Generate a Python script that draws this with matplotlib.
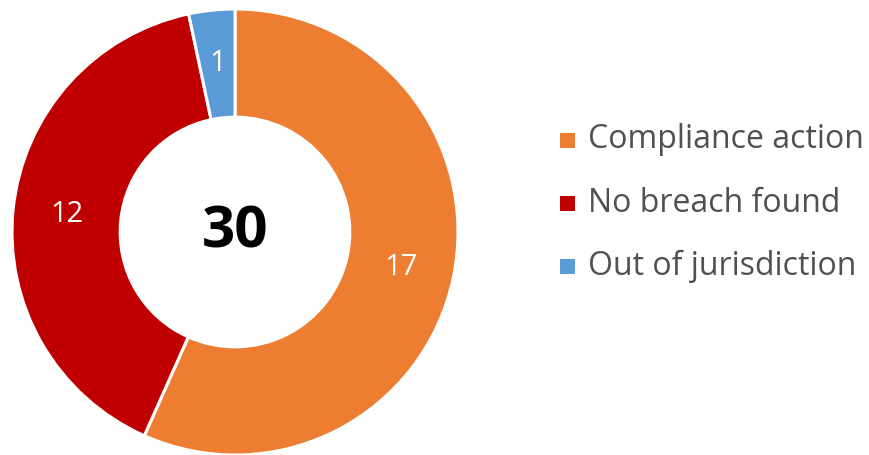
import matplotlib
matplotlib.use("Agg")
import matplotlib.pyplot as plt
from matplotlib.patches import Rectangle

categories = ["Compliance action", "No breach found", "Out of jurisdiction"]
values = [17, 12, 1]
colors = ["#ED7D31", "#C00000", "#5B9BD5"]
total_label = str(sum(values))

plt.rcParams['font.family'] = ['Open Sans', 'DejaVu Sans']

W, H = 870, 455
fig = plt.figure(figsize=(W / 100, H / 100), dpi=100)
R = 223
cx, cy = 235, 232
ax = fig.add_axes([(cx - R) / W, (H - cy - R) / H, 2 * R / W, 2 * R / H])
wedges, texts = ax.pie(values, colors=colors, startangle=90, counterclock=False,
                       labels=[str(v) for v in values], labeldistance=0.76,
                       wedgeprops=dict(width=0.485, edgecolor="white", linewidth=2.2),
                       textprops=dict(color="white", fontsize=21))
for t in texts:
    t.set_ha("center")
    t.set_va("center")
ax.set_aspect("equal")
ax.set_xlim(-1, 1)
ax.set_ylim(-1, 1)
ax.text(0, 0, total_label, ha="center", va="center", fontsize=42, fontweight="bold", color="black")

# legend
ys = [140, 203, 266]
for cat, col, y in zip(categories, colors, ys):
    fig.add_artist(Rectangle(((560) / W, (H - y - 7.5) / H), 15 / W, 15 / H,
                             transform=fig.transFigure, facecolor=col, edgecolor="none"))
    fig.text(588 / W, (H - y) / H, cat, ha="left", va="center", fontsize=23, color="#505050")

fig.savefig("out.png", dpi=100)
